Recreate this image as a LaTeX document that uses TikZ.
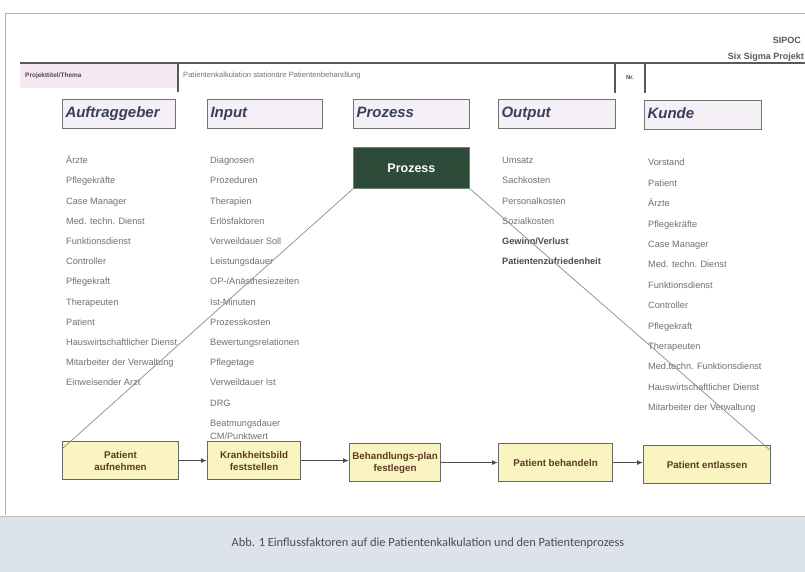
\documentclass[tikz,border=0pt]{standalone}
\usepackage{fontspec}
\setmainfont{Liberation Sans}
\newfontfamily\capfont{Carlito}
\usetikzlibrary{arrows.meta}
\definecolor{listgray}{HTML}{707070}
\definecolor{hdrtext}{HTML}{3A3E5C}
\definecolor{hdrfill}{HTML}{F5EFF6}
\definecolor{procgreen}{HTML}{2E4B3A}
\definecolor{stepfill}{HTML}{FAF5C0}
\definecolor{steptext}{HTML}{5A3B22}
\definecolor{capband}{HTML}{DDE3EA}
\definecolor{cellpink}{HTML}{F5E8F2}
\tikzset{
  listitem/.style={anchor=base west, inner sep=0pt, text=listgray, font=\fontsize{9.2}{11}\selectfont},
  listbold/.style={listitem, font=\fontsize{9.2}{11}\selectfont\bfseries, text=black!70},
  hdrbox/.style={anchor=north west, draw=black!55, line width=1pt, fill=hdrfill,
    minimum height=29pt, inner xsep=3pt, inner ysep=0pt, text height=11.5pt, text depth=3.5pt,
    align=left, text=hdrtext, font=\fontsize{15}{17}\selectfont\bfseries\itshape},
  procbox/.style={anchor=north west, fill=procgreen, draw=procgreen!70!white, line width=0.8pt,
    minimum width=116pt, minimum height=41pt, text=white, font=\fontsize{12.5}{14}\selectfont\bfseries},
  stepbox/.style={anchor=north west, fill=stepfill, draw=black!60, line width=1.1pt,
    minimum height=38pt, align=center, inner sep=1pt, text=steptext,
    font=\fontsize{9.8}{12}\selectfont\bfseries},
  flow/.style={draw=black!70, line width=1.3pt, -{Latex[length=6pt,width=5pt]}},
  funnel/.style={draw=black!45, line width=0.7pt},
  rule/.style={draw=black!65, line width=1.3pt},
}
\begin{document}
\begin{tikzpicture}[x=1pt,y=-1pt]
\useasboundingbox (0,0) rectangle (805,572);
\fill[white] (0,0) rectangle (805,572);

% page frame
\draw[draw=black!30, line width=0.8pt] (806,13) -- (5,13) -- (5,515);

% form heading
\node[anchor=east, inner sep=0pt, text=black!65, font=\fontsize{9}{10}\selectfont\bfseries] (sipoc) at (801,40) {SIPOC};
\node[anchor=east, inner sep=0pt, text=black!65, font=\fontsize{9}{10}\selectfont\bfseries] (sixsigma) at (804,57) {Six Sigma Projekt};

% project title row
\fill[cellpink] (20,64) rectangle (178,88);
\draw[rule] (20,63) -- (805,63);
\draw[rule] (178,63) -- (178,92);
\draw[rule] (615,63) -- (615,93);
\draw[rule] (645,63) -- (645,93);
\node[anchor=west, inner sep=0pt, text=black!70, font=\fontsize{6.5}{7}\selectfont\bfseries] (titlelbl) at (25,76) {Projekttitel/Thema};
\node[anchor=west, inner sep=0pt, text=black!55, font=\fontsize{7.6}{9}\selectfont] (titletxt) at (183,76) {Patientenkalkulation stationäre Patientenbehandlung};
\node[anchor=center, inner sep=0pt, text=black!70, font=\fontsize{6}{7}\selectfont\bfseries] (nr) at (630,77) {Nr.};

% SIPOC column headers
\node[hdrbox, text width=107pt] (hA) at (62,99)  {Auftraggeber};
\node[hdrbox, text width=109pt] (hI) at (207,99) {Input};
\node[hdrbox, text width=110pt] (hP) at (353,99) {Prozess};
\node[hdrbox, text width=111pt] (hO) at (498,99) {Output};
\node[hdrbox, text width=111pt] (hK) at (644,100) {Kunde};

% process block
\node[procbox] (proc) at (353,147) {Prozess};

% Auftraggeber list
\foreach \t [count=\i] in {Ärzte, Pflegekräfte, Case Manager, Med. techn. Dienst, Funktionsdienst,
  Controller, Pflegekraft, Therapeuten, Patient, Hauswirtschaftlicher Dienst,
  Mitarbeiter der Verwaltung, Einweisender Arzt}
  \node[listitem] (a\i) at (66,{143.5+20.2*\i}) {\t};

% Input list
\foreach \t [count=\i] in {Diagnosen, Prozeduren, Therapien, Erlösfaktoren, Verweildauer Soll,
  Leistungsdauer, OP-/Anästhesiezeiten, Ist-Minuten, Prozesskosten, Bewertungsrelationen,
  Pflegetage, Verweildauer Ist, DRG}
  \node[listitem] (i\i) at (210,{143.5+20.2*\i}) {\t};
\node[listitem] (i14) at (210,426.5) {Beatmungsdauer};
\node[listitem] (i15) at (210,439.5) {CM/Punktwert};

% Output list
\foreach \t [count=\i] in {Umsatz, Sachkosten, Personalkosten, Sozialkosten}
  \node[listitem] (o\i) at (502,{143.5+20.2*\i}) {\t};
\node[listbold] (o5) at (502,244.5) {Gewinn/Verlust};
\node[listbold] (o6) at (502,264.7) {Patientenzufriedenheit};

% Kunde list
\foreach \t [count=\i] in {Vorstand, Patient, Ärzte, Pflegekräfte, Case Manager, Med. techn. Dienst,
  Funktionsdienst, Controller, Pflegekraft, Therapeuten, Med.techn. Funktionsdienst,
  Hauswirtschaftlicher Dienst, Mitarbeiter der Verwaltung}
  \node[listitem] (k\i) at (648,{145.5+20.4*\i}) {\t};

% process steps
\node[stepbox, minimum width=116pt] (s1) at (62,441)  {Patient\\aufnehmen};
\node[stepbox, minimum width=93pt]  (s2) at (207,441) {Krankheitsbild\\feststellen};
\node[stepbox, minimum width=91pt]  (s3) at (349,443) {Behandlungs-plan\\festlegen};
\node[stepbox, minimum width=114pt] (s4) at (498,443) {Patient behandeln};
\node[stepbox, minimum width=127pt] (s5) at (643,445) {Patient entlassen};

\draw[flow] (s1.east) -- (s2.west);
\draw[flow] (s2.east) -- (s3.west |- s2.east);
\draw[flow] (s3.east) -- (s4.west);
\draw[flow] (s4.east) -- (s5.west |- s4.east);

% funnel from the process block to the step chain
\draw[funnel] (proc.south west) -- ([yshift=-8pt]s1.north west);
\draw[funnel] (proc.south east) -- ([yshift=-6pt]s5.north east);

% caption band
\fill[capband] (0,516) rectangle (805,572);
\draw[draw=black!25, line width=0.8pt] (0,516) -- (805,516);
\node[inner sep=0pt, text=black!70, font=\capfont\fontsize{12.4}{14}\selectfont] (caption) at (428,543)
  {Abb. 1 Einflussfaktoren auf die Patientenkalkulation und den Patientenprozess};
\end{tikzpicture}
\end{document}
